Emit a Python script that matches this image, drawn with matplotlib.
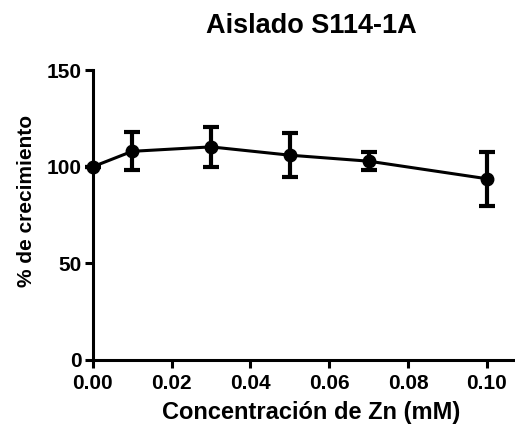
import matplotlib
matplotlib.use("Agg")
import matplotlib.pyplot as plt

plt.rcParams['font.family'] = ['Liberation Sans', 'DejaVu Sans']
plt.rcParams['font.weight'] = 'bold'

# data
conc = [0.00, 0.01, 0.03, 0.05, 0.07, 0.10]
growth = [100.0, 108.0, 110.3, 106.0, 102.9, 93.8]
err = [0.0, 9.8, 10.3, 11.3, 4.5, 14.0]

title = "Aislado S114-1A"
xlab = "Concentración de Zn (mM)"
ylab = "% de crecimiento"
xticks = [0.00, 0.02, 0.04, 0.06, 0.08, 0.10]
yticks = [0, 50, 100, 150]

fig = plt.figure(figsize=(5.15, 4.28), dpi=100)
ax = fig.add_axes([0.18, 0.159, 0.816, 0.677])

ax.errorbar(conc, growth, yerr=err, color="black", lw=2.2, marker="o", ms=9,
            elinewidth=3, capsize=6, capthick=3, clip_on=False, zorder=3)

ax.set_xlim(0, 0.1066)
ax.set_ylim(0, 150)
ax.set_xticks(xticks)
ax.set_xticklabels(["%.2f" % t for t in xticks])
ax.set_yticks(yticks)

for s in ["top", "right"]:
    ax.spines[s].set_visible(False)
for s in ["left", "bottom"]:
    ax.spines[s].set_linewidth(2.2)
ax.tick_params(width=2.2, length=6, labelsize=15, pad=2)
ax.tick_params(axis="x", pad=4)

ax.set_xlabel(xlab, fontsize=17, fontweight="bold")
ax.xaxis.set_label_coords(0.52, -0.14)
ax.set_ylabel(ylab, fontsize=15, fontweight="bold")
ax.yaxis.set_label_coords(-0.136, 0.55)
ax.set_title(title, fontsize=19.5, fontweight="bold", x=0.52, pad=27)

plt.savefig("out.png", dpi=100)
